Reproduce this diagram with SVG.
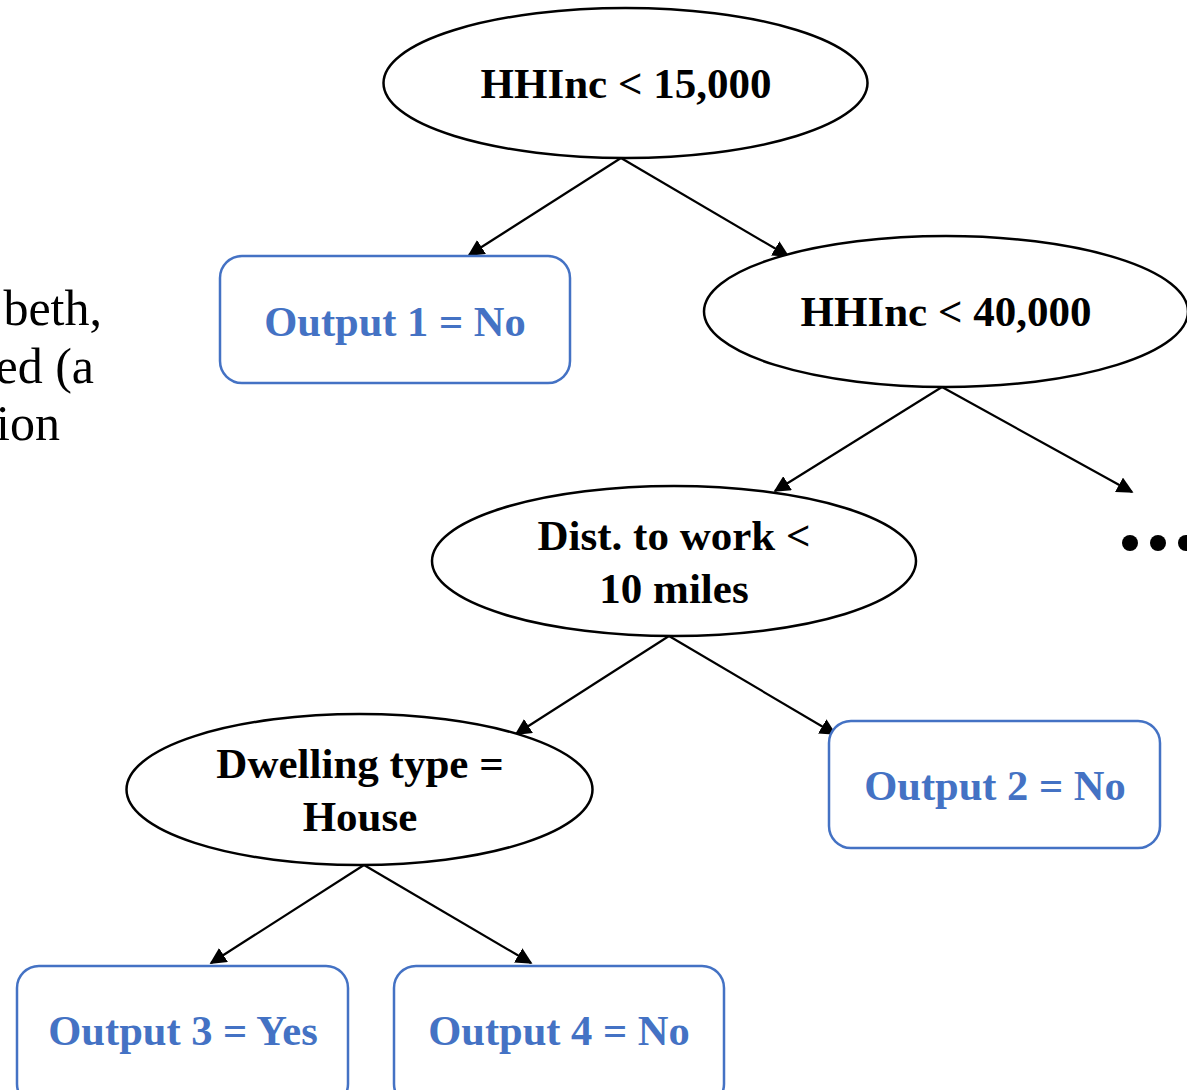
<svg xmlns="http://www.w3.org/2000/svg" width="1187" height="1090" viewBox="0 0 1187 1090">
  <style>
    .split { fill: #ffffff; stroke: #000000; stroke-width: 2.5; }
    .leaf { fill: #ffffff; stroke: #4472C4; stroke-width: 2.5; }
    .label { font-family: "Liberation Serif", "Times New Roman", serif; font-weight: bold; font-size: 43px; text-anchor: middle; fill: #000000; }
    .out { font-family: "Liberation Serif", "Times New Roman", serif; font-weight: bold; font-size: 42.5px; text-anchor: middle; fill: #4472C4; }
    .body { font-family: "Liberation Serif", "Times New Roman", serif; font-size: 50px; text-anchor: end; fill: #000000; }
    .edge { stroke: #000000; stroke-width: 2.2; fill: none; marker-end: url(#arrow); }
  </style>
  <defs>
    <marker id="arrow" viewBox="0 0 10 10" refX="9" refY="5" markerWidth="7.5" markerHeight="7.5" markerUnits="strokeWidth" orient="auto">
      <path d="M0,0 L10,5 L0,10 Z" fill="#000000"/>
    </marker>
  </defs>
  <rect width="1187" height="1090" fill="#ffffff"/>

  <!-- slide body text, clipped at the left edge -->
  <g id="body-text">
    <text class="body" x="102" y="325">beth,</text>
    <text class="body" x="94" y="383">ed (a</text>
    <text class="body" x="60" y="440">ion</text>
  </g>

  <g id="connectors">
    <line class="edge" x1="621" y1="158" x2="469" y2="255"/>
    <line class="edge" x1="621" y1="158" x2="788" y2="256"/>
    <line class="edge" x1="942" y1="387" x2="775" y2="491"/>
    <line class="edge" x1="942" y1="387" x2="1132" y2="492"/>
    <line class="edge" x1="669" y1="636" x2="516" y2="734"/>
    <line class="edge" x1="669" y1="636" x2="835" y2="734"/>
    <line class="edge" x1="364" y1="865" x2="211" y2="963"/>
    <line class="edge" x1="364" y1="865" x2="531" y2="963"/>
  </g>

  <g id="node-hhinc15">
    <ellipse class="split" cx="625.5" cy="83" rx="242" ry="75"/>
    <text class="label" x="626" y="98">HHInc &lt; 15,000</text>
  </g>

  <g id="node-out1">
    <rect class="leaf" x="220" y="256" width="350" height="127" rx="22"/>
    <text class="out" x="395" y="336">Output 1 = No</text>
  </g>

  <g id="node-hhinc40">
    <ellipse class="split" cx="946" cy="311.5" rx="242" ry="75.5"/>
    <text class="label" x="946" y="326">HHInc &lt; 40,000</text>
  </g>

  <g id="node-more">
    <circle cx="1130" cy="543" r="8" fill="#000000"/>
    <circle cx="1158" cy="543" r="8" fill="#000000"/>
    <circle cx="1186" cy="543" r="8" fill="#000000"/>
  </g>

  <g id="node-dist">
    <ellipse class="split" cx="674" cy="561" rx="242" ry="75"/>
    <text class="label" x="674" y="550">Dist. to work &lt;</text>
    <text class="label" x="674" y="603">10 miles</text>
  </g>

  <g id="node-out2">
    <rect class="leaf" x="829" y="721" width="331" height="127" rx="22"/>
    <text class="out" x="995" y="800">Output 2 = No</text>
  </g>

  <g id="node-dwelling">
    <ellipse class="split" cx="359.5" cy="789.5" rx="233" ry="75.5"/>
    <text class="label" x="360" y="778">Dwelling type =</text>
    <text class="label" x="360" y="831">House</text>
  </g>

  <g id="node-out3">
    <rect class="leaf" x="17" y="966" width="331" height="140" rx="22"/>
    <text class="out" x="183" y="1045">Output 3 = Yes</text>
  </g>

  <g id="node-out4">
    <rect class="leaf" x="394" y="966" width="330" height="140" rx="22"/>
    <text class="out" x="559" y="1045">Output 4 = No</text>
  </g>
</svg>
